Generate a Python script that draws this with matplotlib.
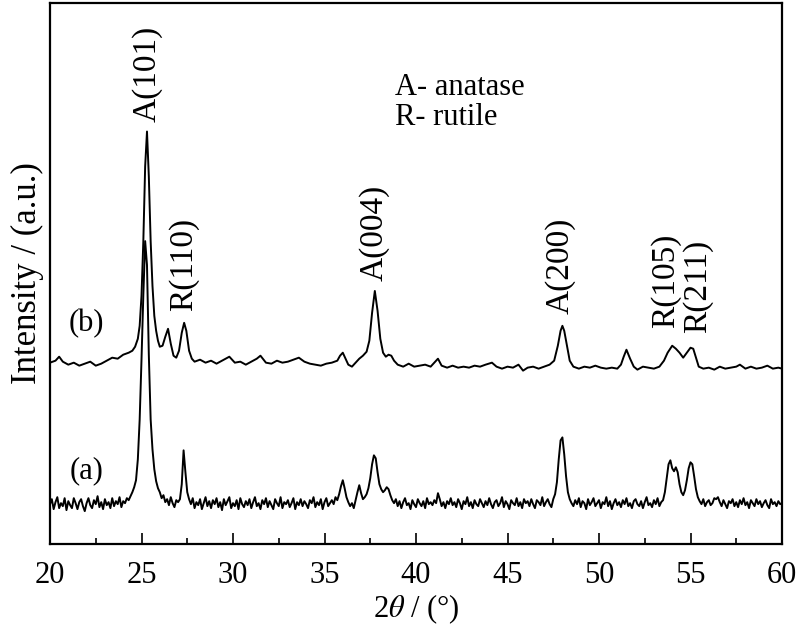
import numpy as np
import matplotlib
matplotlib.use("Agg")
import matplotlib.pyplot as plt

plt.rcParams['font.family'] = ['Liberation Serif', 'DejaVu Serif']
plt.rcParams['mathtext.fontset'] = 'stix'

# ---- pattern (b): 2theta and intensity (a.u.) ----
b_theta = [20.0, 20.3, 20.5, 20.7, 21.0, 21.3, 21.6, 21.9, 22.2, 22.5, 22.8, 23.1, 23.4, 23.7,
           24.0, 24.3, 24.5, 24.65, 24.8, 24.9, 25.0, 25.1, 25.2, 25.3, 25.4, 25.5, 25.6, 25.7,
           25.8, 25.9, 26.0, 26.15, 26.3, 26.45, 26.6, 26.75, 26.9, 27.05, 27.2, 27.33, 27.45,
           27.6, 27.75, 27.9, 28.2, 28.5, 28.8, 29.1, 29.4, 29.8, 30.1, 30.4, 30.7, 31.0, 31.3,
           31.5, 31.8, 32.1, 32.4, 32.7, 33.0, 33.3, 33.6, 33.9, 34.2, 34.5, 34.8, 35.1, 35.4,
           35.7, 35.85, 36.0, 36.15, 36.3, 36.5, 36.7, 36.9, 37.1, 37.3, 37.45, 37.6, 37.75,
           37.9, 38.05, 38.2, 38.35, 38.5, 38.65, 38.8, 39.0, 39.3, 39.6, 39.9, 40.2, 40.5,
           40.8, 41.0, 41.2, 41.4, 41.7, 42.0, 42.3, 42.6, 42.9, 43.2, 43.5, 43.8, 44.15, 44.4,
           44.7, 45.0, 45.3, 45.6, 45.85, 46.1, 46.4, 46.7, 47.0, 47.3, 47.55, 47.75, 47.9,
           48.0, 48.1, 48.25, 48.4, 48.6, 48.9, 49.2, 49.5, 49.8, 50.1, 50.4, 50.7, 51.0, 51.2,
           51.35, 51.5, 51.7, 51.9, 52.1, 52.4, 52.7, 53.0, 53.3, 53.55, 53.75, 54.0, 54.2,
           54.4, 54.6, 54.8, 55.0, 55.15, 55.3, 55.45, 55.7, 56.0, 56.3, 56.6, 56.9, 57.2,
           57.5, 57.7, 58.0, 58.3, 58.6, 58.9, 59.2, 59.5, 59.8, 60.0]
b_int = [182, 184, 188, 183, 180, 182, 179, 181, 183, 179, 181, 184, 187, 186,
         190, 192, 194, 198, 206, 219, 249, 304, 379, 414, 369, 304, 259, 229,
         214, 204, 198, 199, 208, 216, 201, 189, 187, 194, 212, 222, 214,
         194, 186, 183, 185, 182, 184, 181, 184, 188, 182, 183, 180, 183, 186,
         189, 182, 181, 184, 182, 183, 185, 187, 183, 181, 180, 179, 181, 182,
         184, 189, 192, 186, 180, 178, 182, 186, 189, 193, 204, 232, 254,
         234, 206, 192, 188, 190, 189, 184, 180, 178, 181, 178, 179, 180,
         178, 182, 186, 179, 177, 179, 177, 178, 177, 179, 178, 180, 182, 178,
         176, 178, 177, 180, 174, 177, 178, 176, 178, 180, 184, 199, 214,
         219, 214, 199, 184, 178, 176, 178, 177, 179, 177, 176, 177, 176, 180,
         188, 195, 186, 178, 175, 178, 177, 176, 178, 184, 192, 199, 196,
         192, 187, 192, 197, 196, 187, 178, 176, 177, 175, 178, 176, 177,
         178, 180, 176, 178, 176, 177, 179, 176, 177, 176]

# ---- pattern (a): scan 20-60 deg, step 0.1 deg; each row = 1 degree ----
a_start, a_step = 20.0, 0.1
a_int = [
    40, 45, 35, 42, 47, 36, 41, 38, 46, 34,      # 20
    43, 39, 36, 46, 41, 35, 42, 45, 38, 33,      # 21
    41, 46, 39, 36, 44, 40, 48, 37, 42, 35,      # 22
    45, 39, 42, 36, 46, 38, 43, 40, 47, 37,      # 23
    43, 41, 46, 44, 48, 52, 57, 64, 85, 125,     # 24
    185, 250, 304, 280, 190, 125, 95, 75, 63, 56,  # 25
    52, 46, 49, 42, 45, 39, 47, 41, 37, 44,      # 26
    42, 45, 60, 94, 72, 52, 45, 40, 46, 36,      # 27
    42, 39, 45, 35, 41, 47, 38, 43, 36, 44,      # 28
    40, 46, 37, 42, 34, 45, 39, 43, 47, 36,      # 29
    41, 38, 44, 35, 46, 40, 37, 43, 39, 45,      # 30
    36, 42, 47, 38, 41, 35, 44, 40, 46, 37,      # 31
    43, 39, 35, 45, 41, 38, 47, 36, 42, 40,      # 32
    44, 37, 41, 46, 35, 42, 39, 45, 38, 43,      # 33
    40, 36, 44, 41, 47, 37, 42, 39, 45, 35,      # 34
    42, 46, 38, 41, 44, 40, 47, 44, 50, 58,      # 35
    64, 56, 47, 42, 38, 41, 36, 44, 52, 59,      # 36
    51, 45, 47, 50, 56, 66, 80, 89, 86, 72,      # 37
    60, 55, 52, 54, 57, 55, 49, 44, 41, 45,      # 38
    38, 43, 36, 42, 46, 39, 41, 35, 44, 40,      # 39
    37, 45, 41, 38, 43, 36, 46, 40, 42, 39,      # 40
    44, 41, 51, 45, 38, 42, 36, 43, 40, 46,      # 41
    39, 42, 37, 45, 41, 35, 43, 40, 47, 38,      # 42
    42, 36, 44, 40, 38, 45, 41, 37, 43, 39,      # 43
    46, 40, 36, 42, 44, 38, 41, 47, 37, 43,      # 44
    40, 35, 44, 41, 39, 46, 38, 42, 36, 45,      # 45
    41, 43, 38, 45, 40, 36, 44, 42, 39, 47,      # 46
    38, 42, 45, 40, 37, 45, 50, 62, 85, 104,     # 47
    107, 90, 68, 52, 45, 41, 38, 44, 40, 46,     # 48
    37, 43, 41, 35, 45, 39, 42, 46, 38, 41,      # 49
    44, 36, 42, 40, 47, 38, 43, 35, 41, 45,      # 50
    39, 42, 37, 44, 40, 46, 38, 41, 36, 43,      # 51
    45, 40, 38, 43, 36, 42, 47, 39, 41, 37,      # 52
    44, 40, 46, 38, 42, 44, 52, 66, 80, 84,      # 53
    76, 73, 77, 72, 60, 52, 49, 54, 64, 76,      # 54
    82, 80, 68, 55, 47, 43, 40, 45, 38, 42,      # 55
    44, 39, 41, 46, 45, 47, 42, 38, 44, 40,      # 56
    36, 43, 41, 45, 38, 42, 37, 44, 40, 46,      # 57
    39, 42, 36, 44, 41, 38, 45, 40, 43, 37,      # 58
    41, 44, 39, 36, 45, 40, 42, 38, 43, 40,      # 59
    41,                                          # 60
]
a_theta = a_start + a_step * np.arange(len(a_int))

# ---- annotations ----
peak_labels = ["A(101)", "R(110)", "A(004)", "A(200)", "R(105)", "R(211)"]
peak_label_x = [25.3, 27.33, 37.7, 47.87, 53.66, 55.4]
peak_label_y = [424, 234, 264, 231, 217, 212]
curve_labels = ["(a)", "(b)"]
curve_label_x = [22.0, 22.0]
curve_label_y = [74, 221]
legend_lines = ["A- anatase", "R- rutile"]

fig = plt.figure(figsize=(8.0, 6.31), dpi=100)
ax = fig.add_axes([50 / 800, 87 / 631, 732 / 800, 541 / 631])

ax.plot(a_theta, a_int, color='black', lw=1.4)
ax.plot(b_theta, b_int, color='black', lw=1.4)

ax.set_xlim(20, 60)
ax.set_ylim(0, 543)
ax.set_yticks([])
ax.set_xticks(np.arange(20, 61, 5))
ax.set_xticks(np.arange(22.5, 60, 5), minor=True)
ax.tick_params(axis='x', which='major', direction='in', length=8, width=1.2,
               labelsize=22, pad=12, top=False)
ax.tick_params(axis='x', which='minor', direction='in', length=4.5, width=1.2, top=False)
for s in ax.spines.values():
    s.set_linewidth(1.6)

for t, x, y in zip(peak_labels, peak_label_x, peak_label_y):
    ax.text(x, y, t, rotation=90, ha='center', va='bottom', fontsize=24)
for t, x, y in zip(curve_labels, curve_label_x, curve_label_y):
    ax.text(x, y, t, ha='center', va='center', fontsize=22)
ax.text(38.85, 451, legend_lines[0], ha='left', va='baseline', fontsize=22)
ax.text(38.85, 421, legend_lines[1], ha='left', va='baseline', fontsize=22)

ax.set_xlabel(r'2$\theta$ / (°)', fontsize=22, labelpad=2)
ax.set_ylabel('Intensity / (a.u.)', fontsize=25, labelpad=4)

fig.savefig('out.png', dpi=100)
